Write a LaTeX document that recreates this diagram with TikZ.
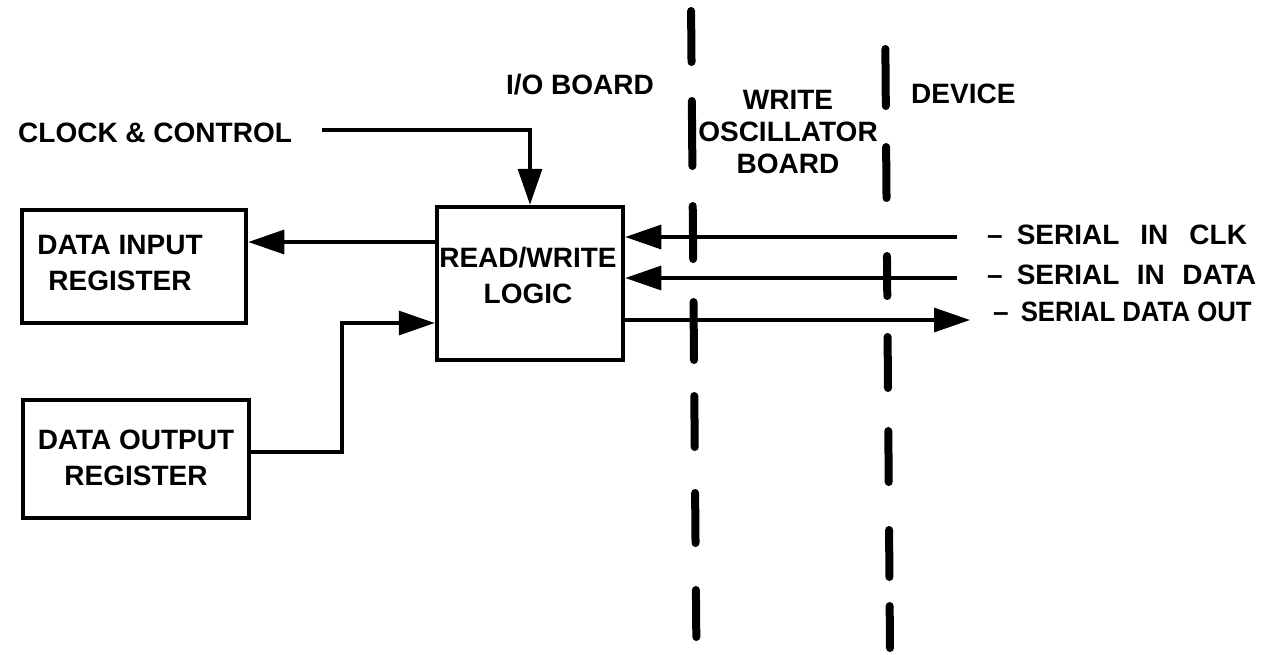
\documentclass[tikz,border=0pt]{standalone}
\usepackage{fontspec}
\setmainfont{Liberation Sans}
\usetikzlibrary{arrows.meta}
\begin{document}
\begin{tikzpicture}[x=1pt,y=-1pt,
  lbl/.style={font=\fontsize{28}{36}\selectfont\bfseries, inner sep=0pt, align=center},
  blk/.style={draw, line width=4.5pt, inner sep=0pt},
  conn/.style={line width=3.2pt},
  arr/.style={conn, -{Triangle[length=36pt,width=24pt]}},
  dsh/.style={line width=8pt, line cap=round}]
\useasboundingbox (0,0) rectangle (1267,654);
% boxes
\node[blk, minimum width=224pt, minimum height=113pt] (din) at (134,266.5) {};
\node[lbl] (dintext) at ([xshift=-14pt,yshift=4pt]din.center) {DATA INPUT\\REGISTER};
\node[blk, minimum width=186pt, minimum height=153pt] (rw) at (530,283.5) {};
\node[lbl] (rwtext) at ([xshift=-2pt,yshift=8pt]rw.center) {READ/WRITE\\LOGIC};
\node[blk, minimum width=226pt, minimum height=118pt] (dout) at (136,459) {};
\node[lbl] (douttext) at ([yshift=1pt]dout.center) {DATA OUTPUT\\REGISTER};
% labels
\node[lbl] (io) at (580,85) {I/O BOARD};
\node[lbl, anchor=west] (clock) at (18,133) {CLOCK \& CONTROL};
\node[lbl] (wob) at (788,132) {WRITE\\[-4pt]OSCILLATOR\\[-4pt]BOARD};
\node[lbl, anchor=west] (dev) at (911,94) {DEVICE};
\node[lbl, anchor=west] (l1) at (987,235) {--\hspace{14pt}SERIAL\hspace{21pt}IN\hspace{21pt}CLK};
\node[lbl, anchor=west] (l2) at (987,275) {--\hspace{14pt}SERIAL\hspace{17.5pt}IN\hspace{17.5pt}DATA};
\node[lbl, anchor=west] (l3) at (993,312) {--\hspace{12pt}\scalebox{0.92}[1]{SERIAL DATA OUT}};
% connectors
\coordinate (ck) at (322,130);
\draw[arr] (ck) -| (rw.north);
\draw[arr] ([yshift=24.5pt]rw.west |- din.east) -- ([yshift=24.5pt]din.east);
\coordinate (dob) at (342,323);
\draw[arr] ([yshift=7pt]dout.east) -| (dob) -- (rw.west |- dob);
\coordinate (s1) at (957,237);
\coordinate (s2) at (957,278);
\coordinate (s3) at (970,320);
\draw[arr] (s1) -- (rw.east |- s1);
\draw[arr] (s2) -- (rw.east |- s2);
\draw[arr] (rw.east |- s3) -- (s3);
% dashed boundaries
\foreach \a/\b in {11/62, 101/166, 206/259, 302/360, 396/447, 493/543, 590/637}
  \draw[dsh] ({691+\a/120},\a) -- ({691+\b/120},\b);
\foreach \a/\b in {49/106, 147/198, 256/296, 337/388, 431/482, 530/577, 606/648}
  \draw[dsh] ({885+\a/130},\a) -- ({885+\b/130},\b);
\end{tikzpicture}
\end{document}
